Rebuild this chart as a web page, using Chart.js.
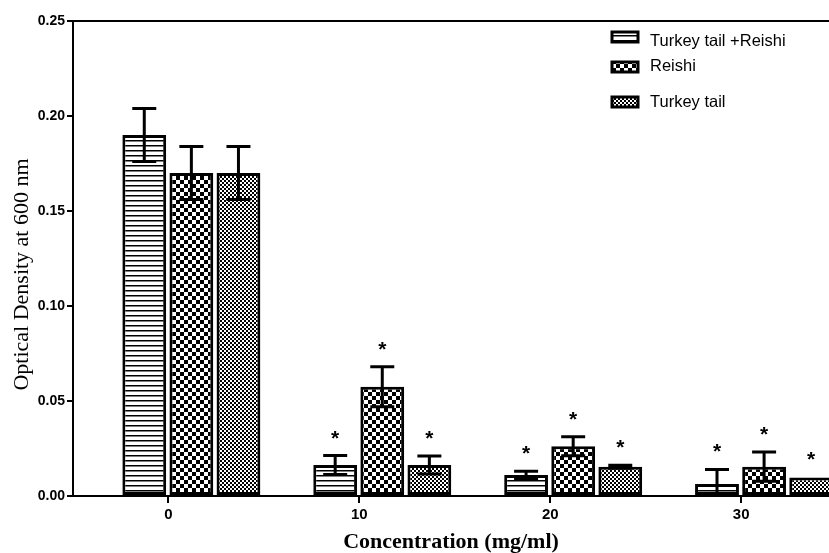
<!DOCTYPE html>
<html>
<head>
<meta charset="utf-8">
<script src="https://cdn.jsdelivr.net/npm/chart.js@4.4.1/dist/chart.umd.min.js"></script>
<style>
html, body { margin: 0; padding: 0; background: #fff; overflow: hidden; }
</style>
</head>
<body>
<canvas id="grafica" width="829" height="553"></canvas>
<script>
// Datos
const concentraciones = [0, 10, 20, 30];
const ticksY = [0, 0.05, 0.10, 0.15, 0.20, 0.25];

const mezcla = [0.190, 0.0163, 0.011, 0.0063];
const mezclaErr = [0.014, 0.005, 0.002, 0.0077];
const mezclaSig = [false, true, true, true];

const reishi = [0.170, 0.0575, 0.0262, 0.0154];
const reishiErr = [0.014, 0.0105, 0.005, 0.0077];
const reishiSig = [false, true, true, true];

const turkey = [0.170, 0.0163, 0.0154, 0.0098];
const turkeyErr = [0.014, 0.0047, 0.0008, 0];
const turkeySig = [false, true, true, true];

const tituloY = 'Optical Density at 600 nm';
const tituloX = 'Concentration (mg/ml)';

// el grupo esta corrido a la derecha del tick (como en el original)
const DESPLAZAMIENTO = 1.2;

function patron(w, h, dibujar) {
    const c = document.createElement('canvas');
    c.width = w; c.height = h;
    const g = c.getContext('2d');
    g.fillStyle = '#fff';
    g.fillRect(0, 0, w, h);
    g.fillStyle = '#000';
    dibujar(g);
    return g.createPattern(c, 'repeat');
}

const rayas = patron(8, 5, g => g.fillRect(0, 0, 8, 1.5));
const cuadros = patron(8, 8, g => { g.fillRect(0, 0, 4, 4); g.fillRect(4, 4, 4, 4); });
const cuadritos = patron(4, 4, g => { g.fillRect(0, 0, 2, 2); g.fillRect(2, 2, 2, 2); });

const series = [
    { nombre: 'Turkey tail +Reishi', valores: mezcla, errores: mezclaErr, sig: mezclaSig, relleno: rayas },
    { nombre: 'Reishi', valores: reishi, errores: reishiErr, sig: reishiSig, relleno: cuadros },
    { nombre: 'Turkey tail', valores: turkey, errores: turkeyErr, sig: turkeySig, relleno: cuadritos }
];

// Barras de error + asteriscos
const barrasError = {
    id: 'barrasError',
    afterDatasetsDraw(chart) {
        const { ctx, chartArea, scales: { y } } = chart;
        ctx.save();
        ctx.beginPath();
        ctx.rect(chartArea.left, 0, chartArea.right - chartArea.left, chartArea.bottom - 1);
        ctx.clip();
        ctx.strokeStyle = '#000';
        ctx.lineWidth = 3;
        ctx.fillStyle = '#000';
        ctx.font = 'bold 21px "Liberation Sans", Arial';
        ctx.textAlign = 'center';
        ctx.textBaseline = 'alphabetic';
        series.forEach((s, i) => {
            chart.getDatasetMeta(i).data.forEach((barra, j) => {
                const e = s.errores[j];
                const arriba = y.getPixelForValue(s.valores[j] + e);
                if (e > 0) {
                    const abajo = y.getPixelForValue(s.valores[j] - e);
                    ctx.beginPath();
                    ctx.moveTo(barra.x, arriba);
                    ctx.lineTo(barra.x, abajo);
                    ctx.moveTo(barra.x - 12, arriba);
                    ctx.lineTo(barra.x + 12, arriba);
                    ctx.moveTo(barra.x - 12, abajo);
                    ctx.lineTo(barra.x + 12, abajo);
                    ctx.stroke();
                }
                if (s.sig[j]) {
                    ctx.fillText('*', barra.x, arriba - 11);
                }
            });
        });
        ctx.restore();
    }
};

// Linea superior del marco y titulo del eje Y
const marco = {
    id: 'marco',
    afterDraw(chart) {
        const { ctx, chartArea } = chart;
        ctx.save();
        ctx.strokeStyle = '#000';
        ctx.lineWidth = 2;
        ctx.beginPath();
        ctx.moveTo(chartArea.left - 1, chartArea.top);
        ctx.lineTo(chartArea.right, chartArea.top);
        ctx.stroke();

        ctx.translate(22, (chartArea.top + chartArea.bottom) / 2 + 16);
        ctx.rotate(-Math.PI / 2);
        ctx.font = '22px "Liberation Serif", "Times New Roman"';
        ctx.fillStyle = '#000';
        ctx.textAlign = 'center';
        ctx.textBaseline = 'middle';
        ctx.fillText(tituloY, 0, 0);
        ctx.restore();
    }
};

// Leyenda dentro del area (arriba a la derecha)
const leyenda = {
    id: 'leyenda',
    afterDraw(chart) {
        const { ctx } = chart;
        const cajas = [37, 67, 102];
        const textos = [41, 66, 102];
        ctx.save();
        ctx.font = '16.5px "Liberation Sans", Arial';
        ctx.textBaseline = 'middle';
        ctx.textAlign = 'left';
        series.forEach((s, i) => {
            ctx.fillStyle = s.relleno;
            ctx.fillRect(612, cajas[i] - 5, 26, 10);
            ctx.strokeStyle = '#000';
            ctx.lineWidth = 3;
            ctx.strokeRect(612, cajas[i] - 5, 26, 10);
            ctx.fillStyle = '#000';
            ctx.fillText(s.nombre, 650, textos[i]);
        });
        ctx.restore();
    }
};

const ctx = document.getElementById('grafica').getContext('2d');

new Chart(ctx, {
    type: 'bar',
    data: {
        datasets: series.map(s => ({
            label: s.nombre,
            data: concentraciones.map((c, j) => ({ x: c + DESPLAZAMIENTO, y: s.valores[j] })),
            backgroundColor: s.relleno,
            borderColor: '#000',
            borderWidth: 3,
            borderSkipped: false,
            categoryPercentage: 0.74,
            barPercentage: 0.93
        }))
    },
    options: {
        responsive: false,
        animation: false,
        layout: { padding: { top: 21, right: 0, left: 0, bottom: 0 } },
        plugins: { legend: { display: false }, tooltip: { enabled: false } },
        scales: {
            x: {
                type: 'linear',
                min: -5,
                max: 34.6,
                offset: false,
                afterBuildTicks: sc => { sc.ticks = concentraciones.map(v => ({ value: v })); },
                afterFit: sc => { sc.height = 57; },
                grid: { offset: false, drawOnChartArea: false, drawTicks: true, tickLength: 7, color: '#000', lineWidth: 2 },
                border: { color: '#000', width: 2 },
                ticks: {
                    color: '#000',
                    padding: 3,
                    maxRotation: 0,
                    font: { family: '"Liberation Sans", Arial', weight: 'bold', size: 15 },
                    callback: v => String(v)
                },
                title: {
                    display: true,
                    text: tituloX,
                    color: '#000',
                    padding: { top: 0, bottom: 0 },
                    font: { family: '"Liberation Serif", "Times New Roman"', weight: 'bold', size: 22, lineHeight: 1 }
                }
            },
            y: {
                min: 0,
                max: 0.25,
                afterBuildTicks: sc => { sc.ticks = ticksY.map(v => ({ value: v })); },
                afterFit: sc => { sc.width = 73; },
                grid: { drawOnChartArea: false, drawTicks: true, tickLength: 6, color: '#000', lineWidth: 2 },
                border: { color: '#000', width: 2 },
                ticks: {
                    color: '#000',
                    padding: 2,
                    font: { family: '"Liberation Sans", Arial', weight: 'bold', size: 14 },
                    callback: v => v.toFixed(2)
                }
            }
        }
    },
    plugins: [barrasError, marco, leyenda]
});
</script>
</body>
</html>
